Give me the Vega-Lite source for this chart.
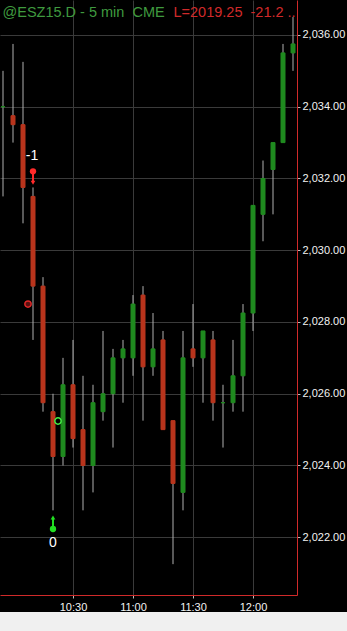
{
  "$schema": "https://vega.github.io/schema/vega-lite/v6.json",
  "background": "#000000",
  "padding": 0,
  "autosize": {"type": "pad"},
  "spacing": 17,
  "bounds": "flush",
  "config": {
    "view": {"stroke": null},
    "font": "Liberation Sans",
    "axis": {"labelFont": "Liberation Sans", "titleFont": "Liberation Sans", "domain": true}
  },
  "datasets": {
    "bars": [
      {"t": "2015-10-20T09:55:00", "o": 2034.0, "h": 2035.0, "l": 2031.5, "c": 2034.0},
      {"t": "2015-10-20T10:00:00", "o": 2033.75, "h": 2035.75, "l": 2033.0, "c": 2033.5},
      {"t": "2015-10-20T10:05:00", "o": 2033.5, "h": 2035.25, "l": 2030.75, "c": 2031.75},
      {"t": "2015-10-20T10:10:00", "o": 2031.5, "h": 2031.75, "l": 2027.5, "c": 2029.0},
      {"t": "2015-10-20T10:15:00", "o": 2029.0, "h": 2029.25, "l": 2025.5, "c": 2025.75},
      {"t": "2015-10-20T10:20:00", "o": 2025.5, "h": 2026.0, "l": 2022.75, "c": 2024.25},
      {"t": "2015-10-20T10:25:00", "o": 2024.25, "h": 2027.0, "l": 2024.0, "c": 2026.25},
      {"t": "2015-10-20T10:30:00", "o": 2026.25, "h": 2027.5, "l": 2024.5, "c": 2024.75},
      {"t": "2015-10-20T10:35:00", "o": 2025.0, "h": 2026.5, "l": 2022.75, "c": 2024.0},
      {"t": "2015-10-20T10:40:00", "o": 2024.0, "h": 2026.25, "l": 2023.25, "c": 2025.75},
      {"t": "2015-10-20T10:45:00", "o": 2025.5, "h": 2027.75, "l": 2025.25, "c": 2026.0},
      {"t": "2015-10-20T10:50:00", "o": 2026.0, "h": 2027.25, "l": 2024.5, "c": 2027.0},
      {"t": "2015-10-20T10:55:00", "o": 2027.0, "h": 2027.5, "l": 2025.75, "c": 2027.25},
      {"t": "2015-10-20T11:00:00", "o": 2027.0, "h": 2028.75, "l": 2026.5, "c": 2028.5},
      {"t": "2015-10-20T11:05:00", "o": 2028.75, "h": 2029.0, "l": 2025.25, "c": 2026.75},
      {"t": "2015-10-20T11:10:00", "o": 2026.75, "h": 2028.25, "l": 2026.5, "c": 2027.25},
      {"t": "2015-10-20T11:15:00", "o": 2027.5, "h": 2027.75, "l": 2025.0, "c": 2025.0},
      {"t": "2015-10-20T11:20:00", "o": 2025.25, "h": 2025.25, "l": 2021.25, "c": 2023.5},
      {"t": "2015-10-20T11:25:00", "o": 2023.25, "h": 2027.75, "l": 2022.75, "c": 2027.0},
      {"t": "2015-10-20T11:30:00", "o": 2027.25, "h": 2028.5, "l": 2026.75, "c": 2027.0},
      {"t": "2015-10-20T11:35:00", "o": 2027.0, "h": 2027.75, "l": 2025.75, "c": 2027.75},
      {"t": "2015-10-20T11:40:00", "o": 2027.5, "h": 2027.75, "l": 2025.25, "c": 2025.75},
      {"t": "2015-10-20T11:45:00", "o": 2025.75, "h": 2026.25, "l": 2024.5, "c": 2025.75},
      {"t": "2015-10-20T11:50:00", "o": 2025.75, "h": 2027.5, "l": 2025.5, "c": 2026.5},
      {"t": "2015-10-20T11:55:00", "o": 2026.5, "h": 2028.5, "l": 2025.5, "c": 2028.25},
      {"t": "2015-10-20T12:00:00", "o": 2028.25, "h": 2031.25, "l": 2027.75, "c": 2031.25},
      {"t": "2015-10-20T12:05:00", "o": 2031.0, "h": 2032.5, "l": 2030.25, "c": 2032.0},
      {"t": "2015-10-20T12:10:00", "o": 2032.25, "h": 2033.0, "l": 2031.0, "c": 2033.0},
      {"t": "2015-10-20T12:15:00", "o": 2033.0, "h": 2035.75, "l": 2033.0, "c": 2035.5},
      {"t": "2015-10-20T12:20:00", "o": 2035.5, "h": 2036.5, "l": 2035.0, "c": 2035.75}
    ],
    "arrows": [
      {"t": "2015-10-20T10:10:00", "dot": 2032.2, "tip": 2031.88, "side": "sell"},
      {"t": "2015-10-20T10:20:00", "dot": 2022.23, "tip": 2022.55, "side": "buy"}
    ],
    "labels": [
      {"t": "2015-10-20T10:09:30", "v": 2032.63, "txt": "-1"},
      {"t": "2015-10-20T10:20:00", "v": 2021.84, "txt": "0"}
    ],
    "rings": [
      {"t": "2015-10-20T10:07:30", "v": 2028.5, "kind": "exit"},
      {"t": "2015-10-20T10:22:30", "v": 2025.24, "kind": "entry"}
    ],
    "strip": [{"k": 1}]
  },
  "vconcat": [
    {
      "width": 297,
      "height": 595,
      "encoding": {
        "x": {
          "field": "t",
          "type": "temporal",
          "scale": {"padding": 0, "domain": [
            {"year": 2015, "month": "oct", "date": 20, "hours": 9, "minutes": 53, "seconds": 30},
            {"year": 2015, "month": "oct", "date": 20, "hours": 12, "minutes": 22}
          ]},
          "axis": {
            "orient": "bottom",
            "values": [
              {"year": 2015, "month": "oct", "date": 20, "hours": 10, "minutes": 30},
              {"year": 2015, "month": "oct", "date": 20, "hours": 11, "minutes": 0},
              {"year": 2015, "month": "oct", "date": 20, "hours": 11, "minutes": 30},
              {"year": 2015, "month": "oct", "date": 20, "hours": 12, "minutes": 0}
            ],
            "format": "%H:%M",
            "labelColor": "#f2f2f2",
            "labelFontSize": 11,
            "labelPadding": 3,
            "labelFlush": false,
            "labelOverlap": false,
            "tickSize": 3,
            "tickColor": "#bbbbbb",
            "domainColor": "#d02a2a",
            "domainWidth": 1,
            "grid": true,
            "gridColor": "#3a3a3a",
            "gridWidth": 1,
            "title": "L=2019.25\u00a0 -21.2 ..",
            "titleColor": "#d02a2a",
            "titleFontSize": 14.5,
            "titleFontWeight": "normal",
            "titleX": 173,
            "titleY": -579,
            "titleAlign": "left",
            "titleBaseline": "alphabetic"
          }
        },
        "y": {
          "field": "l",
          "type": "quantitative",
          "scale": {"domain": [2020.39, 2036.975], "zero": false, "nice": false, "padding": 0},
          "axis": {
            "orient": "right",
            "values": [2022, 2024, 2026, 2028, 2030, 2032, 2034, 2036],
            "format": ",.2f",
            "labelColor": "#f2f2f2",
            "labelFontSize": 11,
            "labelPadding": 2,
            "labelFlush": false,
            "labelOverlap": false,
            "tickSize": 3,
            "tickColor": "#bbbbbb",
            "domainColor": "#d02a2a",
            "domainWidth": 1,
            "grid": true,
            "gridColor": "#3a3a3a",
            "gridWidth": 1,
            "title": "@ESZ15.D - 5 min\u00a0 CME",
            "titleColor": "#3f9a3f",
            "titleFontSize": 14.5,
            "titleFontWeight": "normal",
            "titleAngle": 0,
            "titleX": -295,
            "titleY": 16,
            "titleAlign": "left",
            "titleBaseline": "alphabetic"
          }
        }
      },
      "layer": [
        {
          "data": {"name": "bars"},
          "mark": {"type": "rule", "color": "#b0b0b0", "strokeWidth": 1},
          "encoding": {
            "y2": {"field": "h"}
          }
        },
        {
          "data": {"name": "bars"},
          "mark": {"type": "bar", "size": 4, "strokeWidth": 1},
          "encoding": {
            "y": {"field": "o", "type": "quantitative", "title": "@ESZ15.D - 5 min\u00a0 CME"},
            "y2": {"field": "c"},
            "fill": {"condition": {"test": "datum.c >= datum.o", "value": "#1f8a1f"}, "value": "#b8341c"},
            "stroke": {"condition": {"test": "datum.c >= datum.o", "value": "#1f8a1f"}, "value": "#b8341c"}
          }
        },
        {
          "data": {"name": "arrows"},
          "mark": {"type": "rule", "strokeWidth": 2},
          "encoding": {
            "y": {"field": "dot", "type": "quantitative", "title": "@ESZ15.D - 5 min\u00a0 CME"},
            "y2": {"field": "tip"},
            "color": {"field": "side", "type": "nominal", "scale": {"domain": ["sell", "buy"], "range": ["#ff2a2a", "#22dd22"]}, "legend": null}
          }
        },
        {
          "data": {"name": "arrows"},
          "mark": {"type": "point", "shape": "circle", "filled": true, "size": 40, "opacity": 1},
          "encoding": {
            "y": {"field": "dot", "type": "quantitative", "title": "@ESZ15.D - 5 min\u00a0 CME"},
            "color": {"field": "side", "type": "nominal", "scale": {"domain": ["sell", "buy"], "range": ["#ff2a2a", "#22dd22"]}, "legend": null}
          }
        },
        {
          "data": {"name": "arrows"},
          "mark": {"type": "point", "filled": true, "size": 22, "opacity": 1},
          "encoding": {
            "y": {"field": "tip", "type": "quantitative", "title": "@ESZ15.D - 5 min\u00a0 CME"},
            "shape": {"field": "side", "type": "nominal", "scale": {"domain": ["sell", "buy"], "range": ["triangle-down", "triangle-up"]}, "legend": null},
            "color": {"field": "side", "type": "nominal", "scale": {"domain": ["sell", "buy"], "range": ["#ff2a2a", "#22dd22"]}, "legend": null}
          }
        },
        {
          "data": {"name": "rings"},
          "mark": {"type": "point", "shape": "circle", "size": 40, "strokeWidth": 1.5, "opacity": 1},
          "encoding": {
            "y": {"field": "v", "type": "quantitative", "title": "@ESZ15.D - 5 min\u00a0 CME"},
            "stroke": {"condition": {"test": "datum.kind == 'exit'", "value": "#e02828"}, "value": "#44ee44"},
            "fill": {"condition": {"test": "datum.kind == 'exit'", "value": "#5a1010"}, "value": "#000000"}
          }
        },
        {
          "data": {"name": "labels"},
          "mark": {"type": "text", "color": "#ffffff", "fontSize": 14, "font": "Liberation Sans", "align": "center", "baseline": "middle"},
          "encoding": {
            "y": {"field": "v", "type": "quantitative", "title": "@ESZ15.D - 5 min\u00a0 CME"},
            "text": {"field": "txt"}
          }
        }
      ]
    },
    {
      "width": 347,
      "height": 19,
      "view": {"fill": "#f0f0f0", "stroke": null},
      "data": {"name": "strip"},
      "mark": {"type": "text", "text": ""}
    }
  ]
}
